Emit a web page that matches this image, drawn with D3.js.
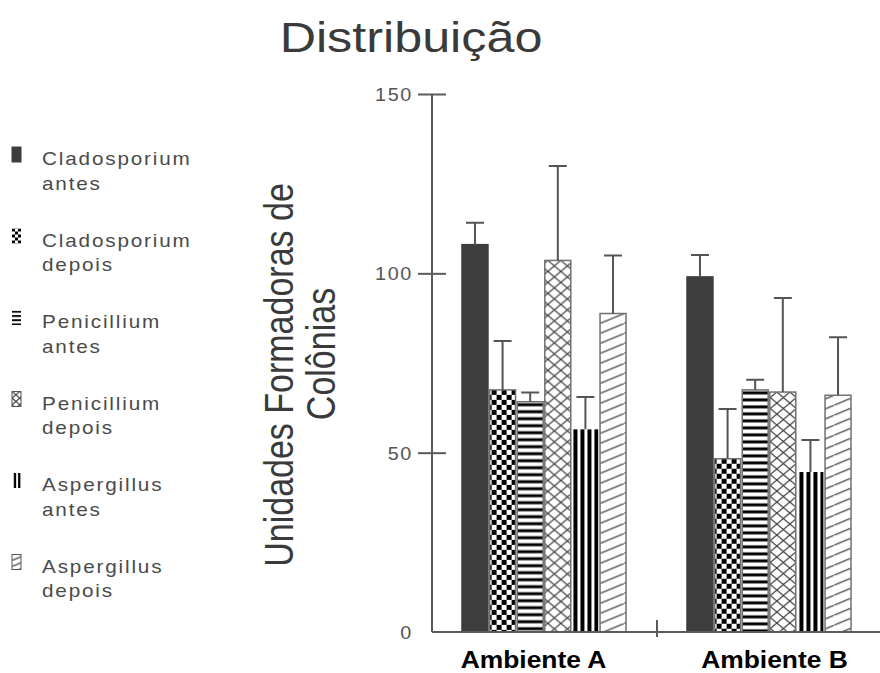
<!DOCTYPE html>
<html>
<head>
<meta charset="utf-8">
<script src="https://cdn.jsdelivr.net/npm/d3@7"></script>
<style>
  body { margin: 0; background: #fff; }
  svg { display: block; font-family: "Liberation Sans", Arial, sans-serif; }
</style>
</head>
<body>
<svg id="chart" width="880" height="673"></svg>
<script>
// Colony counts (UFC) per environment, before / after, for each fungus genus
const groups = ["Ambiente A", "Ambiente B"];
const series = [
  "Cladosporium antes", "Cladosporium depois",
  "Penicillium antes", "Penicillium depois",
  "Aspergillus antes", "Aspergillus depois"
];
const meanA = [108.0, 67.5, 64.2, 103.6, 56.5, 88.8];
const errA  = [6.1, 13.6, 2.6, 26.3, 9.0, 16.2];
const meanB = [99.0, 48.3, 67.5, 66.9, 44.6, 66.0];
const errB  = [6.1, 13.9, 2.8, 26.2, 8.9, 16.2];
const yTicks = [0, 50, 100, 150];
const fillKinds = ["solid", "checker", "hstripe", "crosshatch", "vstripe", "diagonal"];

const rows = groups.map((g, gi) => ({
  group: g,
  values: series.map((s, si) => ({
    group: g, gi, series: s, si,
    mean: gi === 0 ? meanA[si] : meanB[si],
    err: gi === 0 ? errA[si] : errB[si]
  }))
}));

const svg = d3.select("#chart");
const defs = svg.append("defs");

const DARK = "#3d3d3d";
const AXIS = "#5a5a5a";

const y = d3.scaleLinear().domain([0, 150]).range([632, 94]);
const x0 = d3.scaleBand().domain(groups).range([432, 882]).padding(0);
const x1 = d3.scaleBand().domain(series).range([30, 194]).paddingInner(0.06).paddingOuter(0);

// Tiled fills, anchored at the given origin so each bar starts its tile cleanly
function addPattern(id, kind, ox, oy, k) {
  const p = defs.append("pattern")
    .attr("id", id)
    .attr("patternUnits", "userSpaceOnUse")
    .attr("x", ox).attr("y", oy);
  if (kind === "checker") {
    const c = 5 * k;
    p.attr("width", 2 * c).attr("height", 2 * c);
    p.append("rect").attr("width", 2 * c).attr("height", 2 * c).attr("fill", "#fff");
    p.append("rect").attr("x", 0).attr("y", 0).attr("width", c).attr("height", c).attr("fill", "#000");
    p.append("rect").attr("x", c).attr("y", c).attr("width", c).attr("height", c).attr("fill", "#000");
  } else if (kind === "hstripe") {
    const h = 7 * k;
    p.attr("width", 10).attr("height", h);
    p.append("rect").attr("width", 10).attr("height", h).attr("fill", "#fff");
    p.append("rect").attr("x", 0).attr("y", 1.5 * k).attr("width", 10).attr("height", 3 * k).attr("fill", "#000");
  } else if (kind === "vstripe") {
    const w = 7 * k;
    p.attr("width", w).attr("height", 10);
    p.append("rect").attr("width", w).attr("height", 10).attr("fill", "#fff");
    p.append("rect").attr("x", 3 * k).attr("y", 0).attr("width", 4 * k).attr("height", 10).attr("fill", "#000");
  } else if (kind === "crosshatch") {
    const w = 13 * k, h = 11 * k;
    p.attr("width", w).attr("height", h);
    p.append("rect").attr("width", w).attr("height", h).attr("fill", "#fff");
    p.append("path").attr("d", `M0,0L${w},${h}M${w},0L0,${h}`)
      .attr("stroke", "#3a3a3a").attr("stroke-width", 1.2).attr("fill", "none");
  } else if (kind === "diagonal") {
    const w = 24 * k, h = 10 * k;
    p.attr("width", w).attr("height", h);
    p.append("rect").attr("width", w).attr("height", h).attr("fill", "#fff");
    p.append("path").attr("d", `M0,${h}L${w},0`)
      .attr("stroke", "#444").attr("stroke-width", 1.2).attr("fill", "none");
  }
}

function fillFor(kind, id) {
  return kind === "solid" ? DARK : `url(#${id})`;
}

// ---- title ----
svg.append("text")
  .attr("transform", "translate(411,52) scale(1.17,1)")
  .attr("text-anchor", "middle")
  .attr("font-size", 43)
  .attr("fill", "#3a3a3a")
  .text("Distribuição");

// ---- y axis ----
const yAxis = svg.append("g")
  .attr("transform", `translate(${x0.range()[0]},0)`)
  .call(d3.axisLeft(y).tickValues(yTicks).tickSize(0).tickPadding(0));
yAxis.select(".domain").attr("stroke", AXIS).attr("stroke-width", 2)
  .attr("d", `M0,${y(0)}V${y(150)}`);
yAxis.selectAll(".tick line")
  .attr("x1", d => d === 0 ? 0 : -14)
  .attr("x2", d => d === 0 ? 0 : 14)
  .attr("stroke", AXIS).attr("stroke-width", 2);
yAxis.selectAll(".tick text")
  .attr("x", null).attr("dy", null)
  .attr("transform", "translate(-19,6.5) scale(1.1,1)")
  .attr("text-anchor", "end")
  .attr("font-family", "Liberation Sans, Arial, sans-serif")
  .attr("font-size", 18)
  .attr("letter-spacing", 1.5)
  .attr("fill", "#555");

// ---- y axis title ----
const yTitle = svg.append("g").attr("fill", "#3a3a3a").attr("font-size", 34);
yTitle.append("text")
  .attr("transform", "translate(293,375) scale(1.2,1) rotate(-90)")
  .attr("text-anchor", "middle")
  .text("Unidades Formadoras de");
yTitle.append("text")
  .attr("transform", "translate(335,354) scale(1.2,1) rotate(-90)")
  .attr("text-anchor", "middle")
  .text("Colônias");

// ---- bar patterns ----
rows.forEach(r => r.values.forEach(d => {
  const bx = x0(d.group) + x1(d.series);
  addPattern(`bar-${d.gi}-${d.si}`, fillKinds[d.si], bx, y(d.mean), 1);
}));

// ---- bars ----
const gGroups = svg.append("g").selectAll("g")
  .data(rows).join("g")
  .attr("transform", r => `translate(${x0(r.group)},0)`);

gGroups.selectAll("rect.bar")
  .data(r => r.values).join("rect")
  .attr("class", "bar")
  .attr("x", d => x1(d.series))
  .attr("y", d => y(d.mean))
  .attr("width", x1.bandwidth())
  .attr("height", d => y(0) - y(d.mean))
  .attr("fill", d => fillFor(fillKinds[d.si], `bar-${d.gi}-${d.si}`))
  .attr("stroke", d => {
    const k = fillKinds[d.si];
    if (k === "solid") return DARK;
    if (k === "vstripe") return "none";
    return "#707070";
  })
  .attr("stroke-width", 1.5);

// ---- error bars (upper whisker) ----
const cap = 18;
gGroups.selectAll("path.err")
  .data(r => r.values).join("path")
  .attr("class", "err")
  .attr("d", d => {
    const cx = x1(d.series) + x1.bandwidth() / 2;
    const top = y(d.mean + d.err);
    return `M${cx},${y(d.mean)}V${top}M${cx - cap / 2},${top}H${cx + cap / 2}`;
  })
  .attr("fill", "none")
  .attr("stroke", "#555")
  .attr("stroke-width", 2);

// ---- x axis ----
const xr = x0.range();
svg.append("path")
  .attr("d", `M${xr[0]},${y(0)}H${xr[1]}`)
  .attr("stroke", AXIS).attr("stroke-width", 2).attr("fill", "none");
// separator tick between the two environments
groups.slice(1).forEach(g => {
  svg.append("path")
    .attr("d", `M${x0(g)},${y(0) - 12}V${y(0) + 5}`)
    .attr("stroke", AXIS).attr("stroke-width", 2);
});
const labelNudge = [-11, 5];
groups.forEach((g, i) => {
  svg.append("text")
    .attr("transform", `translate(${x0(g) + x0.bandwidth() / 2 + labelNudge[i]},668) scale(1.1,1)`)
    .attr("text-anchor", "middle")
    .attr("font-size", 24)
    .attr("font-weight", "bold")
    .attr("fill", "#000")
    .text(g);
});

// ---- legend ----
const legend = svg.append("g");
series.forEach((s, i) => {
  const top = 147 + i * 81.5;
  const kind = fillKinds[i];
  addPattern(`leg-${i}`, kind, 12, top, 0.6);
  legend.append("rect")
    .attr("x", 12).attr("y", top)
    .attr("width", 9).attr("height", 15)
    .attr("fill", fillFor(kind, `leg-${i}`))
    .attr("stroke", kind === "solid" ? DARK : (kind === "vstripe" || kind === "checker" || kind === "hstripe") ? "none" : "#555")
    .attr("stroke-width", 1);
  const words = s.split(" ");
  const t = legend.append("text")
    .attr("transform", `translate(42,${top + 18}) scale(1.15,1)`)
    .attr("font-size", 18)
    .attr("letter-spacing", 1.6)
    .attr("fill", "#4a4a4a");
  t.append("tspan").attr("x", 0).attr("dy", 0).text(words[0]);
  t.append("tspan").attr("x", 0).attr("dy", 25).text(words.slice(1).join(" "));
});
</script>
</body>
</html>
